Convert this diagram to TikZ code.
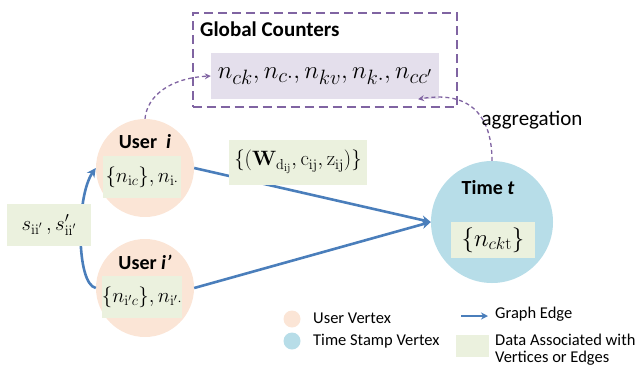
\documentclass[tikz,border=0pt]{standalone}
\usepackage[no-math]{fontspec}
\setmainfont{Carlito}
\usetikzlibrary{arrows.meta}
\definecolor{peach}{HTML}{FBE5D6}
\definecolor{skyb}{HTML}{B7DDE8}
\definecolor{datag}{HTML}{EBF1DE}
\definecolor{lav}{HTML}{E4DFEC}
\definecolor{edgeb}{HTML}{4A7EBB}
\definecolor{purp}{HTML}{8064A2}
\newcommand{\fs}[1]{\fontsize{#1}{#1}\selectfont}
\tikzset{
  vertex/.style={circle, inner sep=0pt},
  userv/.style={vertex, fill=peach, minimum size=98},
  timev/.style={vertex, fill=skyb, minimum size=122},
  databox/.style={fill=datag, inner sep=0pt},
  vlabel/.style={font=\fs{20}\bfseries},
  gedge/.style={draw=edgeb, line width=2.6pt, -{Stealth[length=9pt,width=9pt]}},
  aggedge/.style={draw=purp, line width=1.3pt, dash pattern=on 4pt off 3pt, -{Stealth[length=6pt,width=6pt]}},
  legtext/.style={anchor=west, font=\fs{16.5}, inner sep=0pt},
}
\begin{document}
\begin{tikzpicture}[x=1pt, y=-1pt]
\useasboundingbox (0,0) rectangle (639,365);

% global counters
\node[draw=purp, line width=2pt, dash pattern=on 9pt off 5pt, minimum width=264, minimum height=94, inner sep=0pt] (gbox) at (324.5,60) {};
\node[anchor=west, font=\fs{21}\bfseries, inner sep=0pt] (gtitle) at (200,29) {Global Counters};
\node[fill=lav, minimum width=228, minimum height=46, inner sep=0pt, font=\fs{29.5}] (cnt) at (325,76)
  {$n_{ck},n_{c\cdot},n_{kv},n_{k\cdot},n_{cc'}$};

% graph edges
\node[timev] (tt) at (492,222) {};
\node[userv] (ui) at (145,168) {};
\node[userv] (uj) at (145,288) {};
\draw[gedge] (ui.east) -- (tt.west);
\draw[gedge] (uj.east) -- (tt.west);
\draw[gedge] (uj.west) .. controls (76,284) and (76,196) .. (ui.west);

% vertex labels and data
\node[vlabel] (uil) at (145,142) {User \ \itshape i};
\node[databox, minimum width=78, minimum height=42, font=\fs{21}] (uid) at (142,177) {$\{n_{\mathrm{i}c}\},n_{\mathrm{i}\cdot}$};
\node[vlabel] (ujl) at (145,262) {User \itshape i’};
\node[databox, minimum width=78, minimum height=42, font=\fs{21}] (ujd) at (142,297) {$\{n_{\mathrm{i}'c}\},n_{\mathrm{i}'\cdot}$};
\node[vlabel] (ttl) at (488,188) {Time \itshape t};
\node[databox, minimum width=84, minimum height=36, font=\fs{24}] (ttd) at (493,240) {$\{n_{ck\mathrm{t}}\}$};

\node[databox, minimum width=84, minimum height=42, font=\fs{20}] (sb) at (49,225) {$s_{\mathrm{ii}'}\,,s'_{\mathrm{ii}'}$};
\node[databox, minimum width=138, minimum height=45, font=\fs{21.5}] (eb) at (298,162)
  {$\{(\mathbf{W}_{\mathrm{d}_{\mathrm{ij}}},\mathrm{c}_{\mathrm{ij}},\mathrm{z}_{\mathrm{ij}})\}$};

% aggregation into the global counters
\draw[aggedge] (ui.north) .. controls (147,96) and (170,78) .. (cnt.west);
\draw[aggedge] (tt.north) .. controls (492,118) and (472,90) .. (cnt.-14);
\node[font=\fs{21}, inner sep=0pt] (agg) at (532,120) {aggregation};

% legend
\node[vertex, fill=peach, minimum size=17] (lu) at (292,319) {};
\node[legtext] (lut) at (313,318) {User Vertex};
\node[vertex, fill=skyb, minimum size=17] (lt) at (292,341) {};
\node[legtext] (ltt) at (313,341) {Time Stamp Vertex};
\coordinate (le0) at (461,316);
\coordinate (le1) at (488,316);
\draw[draw=edgeb, line width=2.2pt, -{Stealth[length=7pt,width=7pt]}] (le0) -- (le1);
\node[legtext] (let) at (495,314) {Graph Edge};
\node[databox, minimum width=33, minimum height=22] (ld) at (472.5,346) {};
\node[legtext] (ldt) at (495,340) {Data Associated with};
\node[legtext] (ldt2) at (495,358) {Vertices or Edges};
\end{tikzpicture}
\end{document}
